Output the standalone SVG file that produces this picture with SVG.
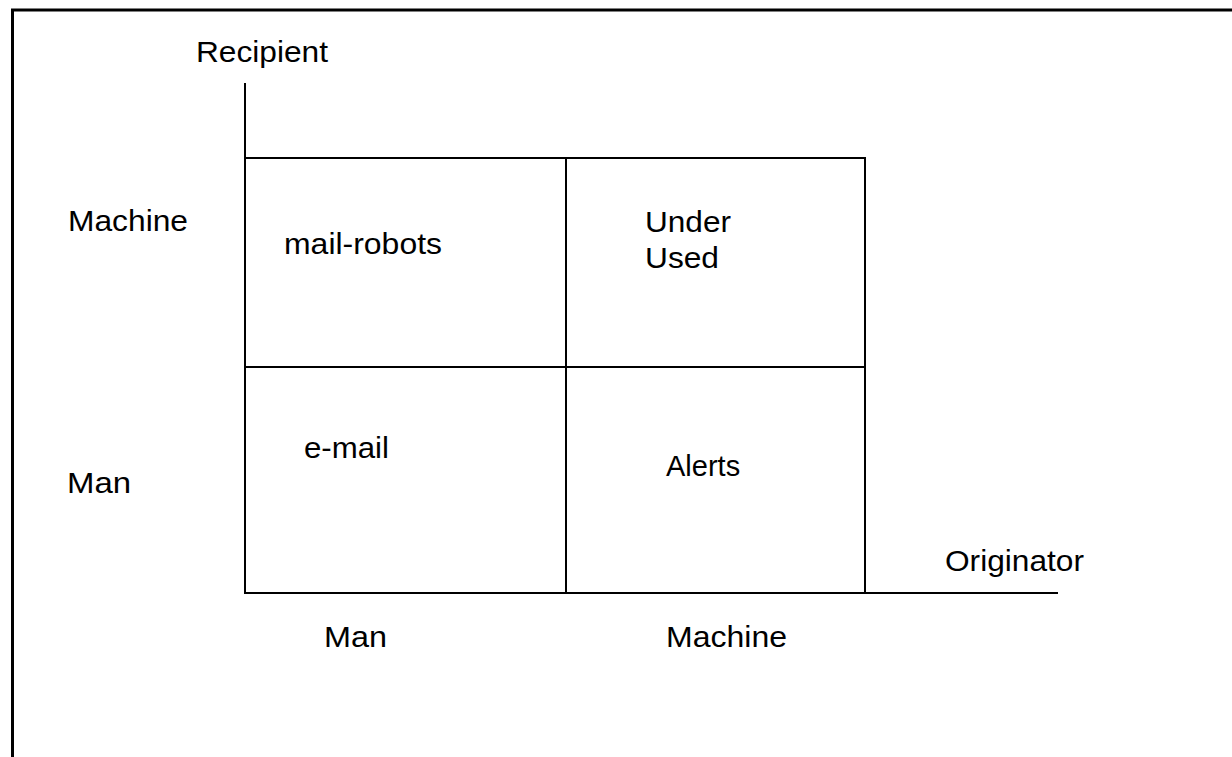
<svg xmlns="http://www.w3.org/2000/svg" width="1232" height="757" viewBox="0 0 1232 757">
<style>
.ln{stroke:#000;stroke-width:2;fill:none}
.bd{stroke:#000;stroke-width:3;fill:none}
text{font-family:"Liberation Sans",Arial,sans-serif;font-size:29px;fill:#000}
</style>
<rect width="1232" height="757" fill="#fff"/>
<g id="frame"><path class="bd" d="M12.5 757 V10 H1232"/></g>
<g id="connectors">
<line class="ln" x1="245" y1="83" x2="245" y2="594"/>
<line class="ln" x1="244" y1="593" x2="1058" y2="593"/>
</g>
<g id="cell-mail-robots"><rect class="ln" x="245" y="158" width="321" height="209"/><text x="284" y="254" textLength="158" lengthAdjust="spacingAndGlyphs">mail-robots</text></g>
<g id="cell-under-used"><rect class="ln" x="566" y="158" width="299" height="209"/><text x="645" y="232" textLength="86" lengthAdjust="spacingAndGlyphs">Under</text><text x="645" y="268" textLength="74" lengthAdjust="spacingAndGlyphs">Used</text></g>
<g id="cell-e-mail"><rect class="ln" x="245" y="367" width="321" height="226"/><text x="304" y="458" textLength="85" lengthAdjust="spacingAndGlyphs">e-mail</text></g>
<g id="cell-alerts"><rect class="ln" x="566" y="367" width="299" height="226"/><text x="666" y="476">Alerts</text></g>
<g id="labels">
<text x="196" y="62" textLength="132" lengthAdjust="spacingAndGlyphs">Recipient</text>
<text x="68" y="231" textLength="120" lengthAdjust="spacingAndGlyphs">Machine</text>
<text x="67" y="493" textLength="64" lengthAdjust="spacingAndGlyphs">Man</text>
<text x="324" y="647" textLength="63" lengthAdjust="spacingAndGlyphs">Man</text>
<text x="666" y="647" textLength="121" lengthAdjust="spacingAndGlyphs">Machine</text>
<text x="945" y="571" textLength="139" lengthAdjust="spacingAndGlyphs">Originator</text>
</g>
</svg>
